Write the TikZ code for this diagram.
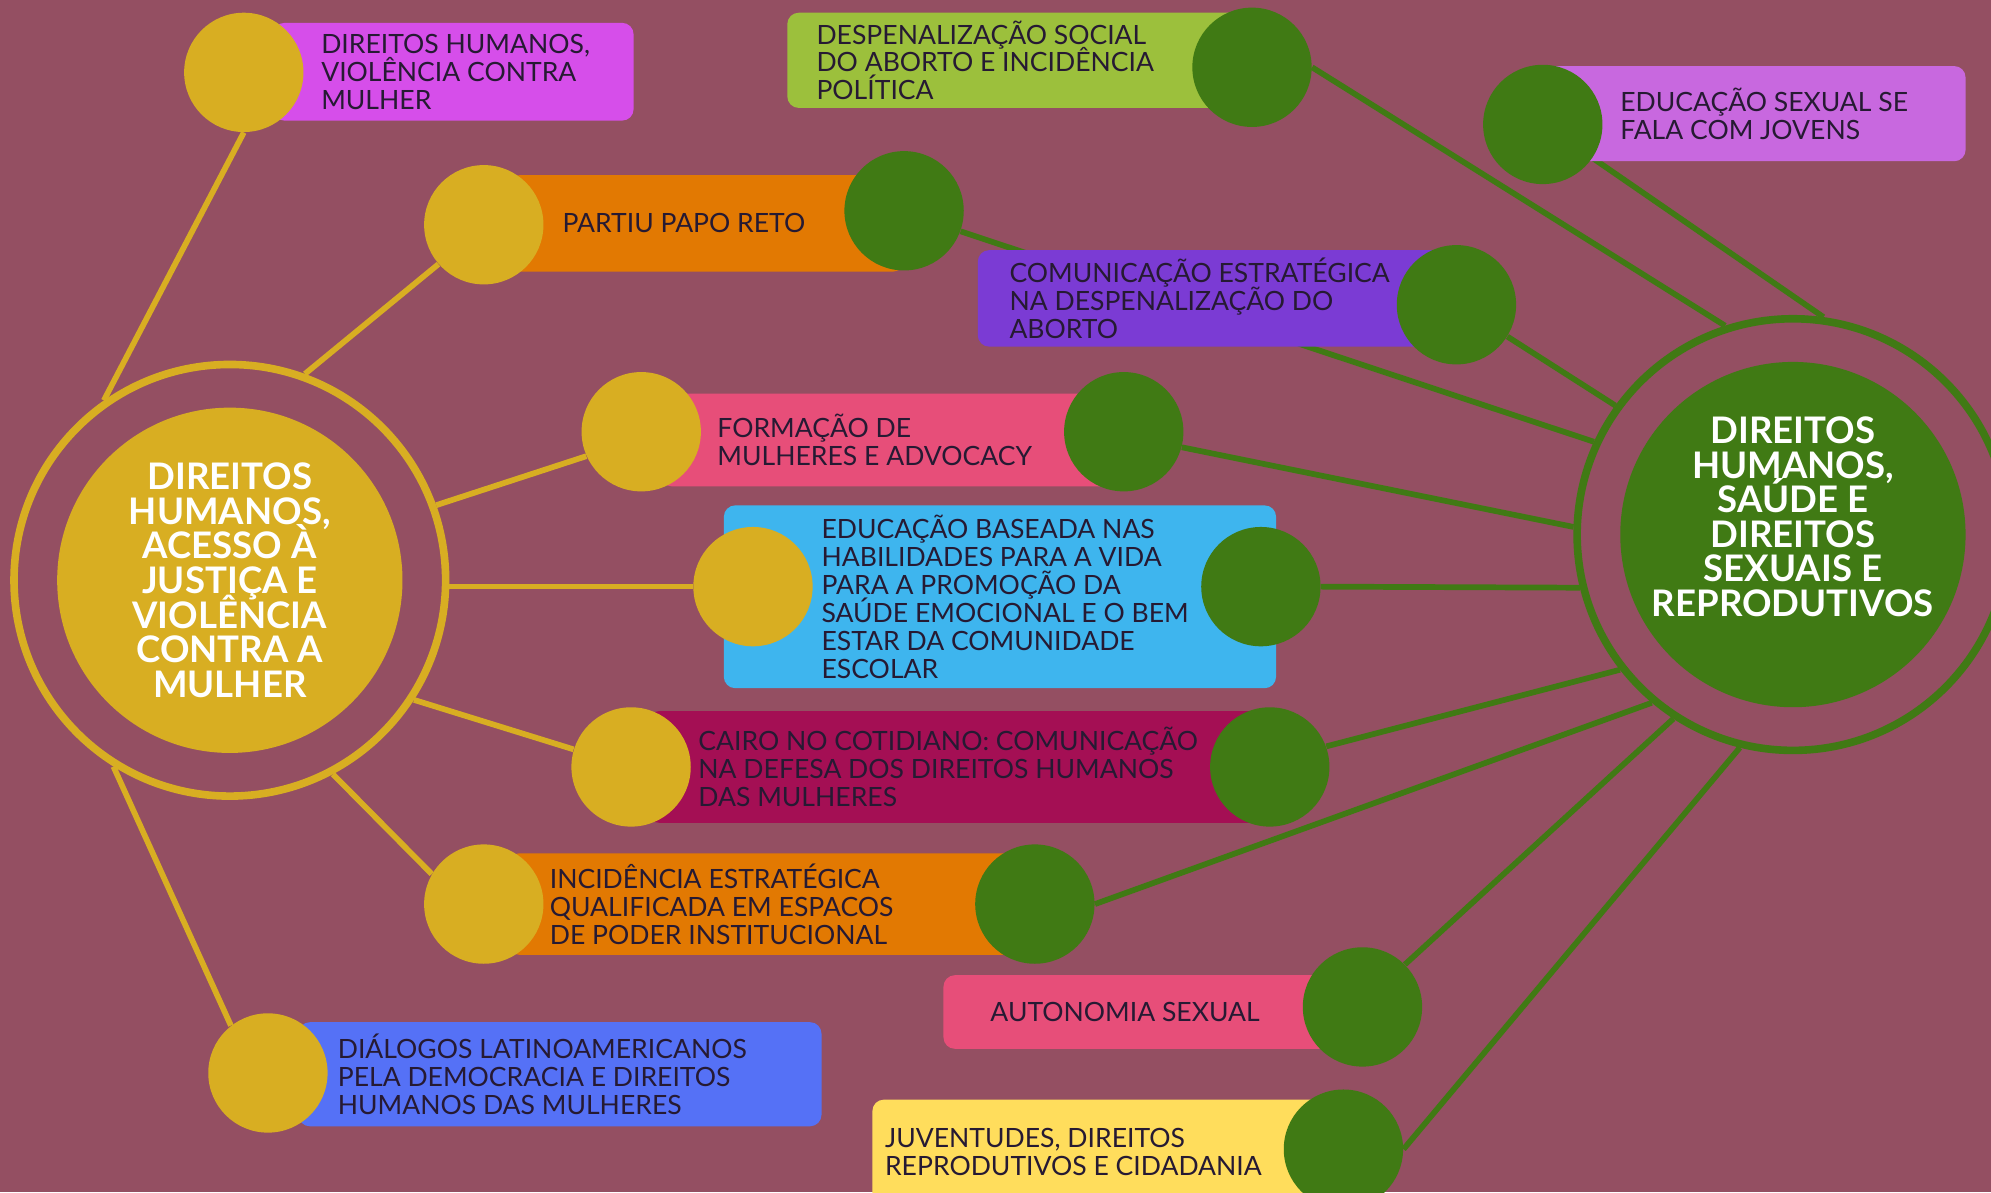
\documentclass[tikz,border=0pt]{standalone}
\usepackage{fontspec}
\setmainfont{Lato}
\usepackage{tikz}
\usetikzlibrary{positioning}

\definecolor{plum}{RGB}{148,79,98}
\definecolor{gold}{RGB}{216,174,34}
\definecolor{leaf}{RGB}{64,122,20}
\definecolor{ink}{RGB}{38,26,51}
\definecolor{cOrchid}{RGB}{214,78,234}
\definecolor{cOrange}{RGB}{226,121,2}
\definecolor{cRose}{RGB}{231,78,121}
\definecolor{cSky}{RGB}{62,181,238}
\definecolor{cWine}{RGB}{164,15,84}
\definecolor{cCobalt}{RGB}{85,113,246}
\definecolor{cLime}{RGB}{156,192,60}
\definecolor{cLilac}{RGB}{200,104,223}
\definecolor{cPurple}{RGB}{123,59,212}
\definecolor{cSun}{RGB}{255,221,92}

\pgfdeclarelayer{bg}
\pgfdeclarelayer{links}
\pgfsetlayers{bg,links,main}

\tikzset{
  hub/.style={circle, fill=#1, minimum size=5.44cm, inner sep=0pt},
  hubring/.style={circle, draw=#1, line width=0.12cm, minimum size=6.8cm, inner sep=0pt},
  hubtext/.style={align=center, text=white, font=\bfseries\fontsize{16.4}{15.5}\selectfont, inner sep=0pt},
  dot/.style={circle, fill=#1, minimum size=1.88cm, inner sep=0pt},
  tile/.style={rectangle, rounded corners=0.18cm, fill=#1, inner sep=0pt},
  tiletext/.style={align=left, text=ink, font=\fontsize{11.9}{12.5}\selectfont, inner sep=0pt},
  link/.style={draw=#1, line width=0.09cm}
}

\begin{document}
\lineskiplimit=-20pt
\begin{tikzpicture}[x=0.02cm,y=-0.02cm]
                \clip (0,0) rectangle (1568,939);
                \begin{pgfonlayer}{bg}
                    \fill[plum] (0,0) rectangle (1568,939);
                \end{pgfonlayer}
                % hubs
                \node[hubring=gold] (ringL) at (181,457) {};
                \node[hub=gold] (hubL) at (181,457) {};
                \node[hubtext] (hubLtext) at (hubL) {DIREITOS\\HUMANOS,\\ACESSO À\\JUSTIÇA E\\VIOLÊNCIA\\CONTRA A\\MULHER};
                \node[hubring=leaf] (ringR) at (1412,421) {};
                \node[hub=leaf] (hubR) at (1412,421) {};
                \node[hubtext] (hubRtext) at ([yshift=0.28cm]hubR) {DIREITOS\\HUMANOS,\\SAÚDE E\\DIREITOS\\SEXUAIS E\\REPRODUTIVOS};
                % tiles
                \node[tile=cOrchid, minimum width=5.68cm, minimum height=1.54cm] (dhv) at (357,56.5) {};
                \node[tile=cOrange, minimum width=6.24cm, minimum height=1.52cm] (partiu) at (556,176) {};
                \node[tile=cRose, minimum width=7.3cm, minimum height=1.46cm] (formacao) at (702.5,346.5) {};
                \node[tile=cSky, minimum width=8.7cm, minimum height=2.88cm] (educ) at (787.5,470) {};
                \node[tile=cWine, minimum width=9.8cm, minimum height=1.76cm] (cairo) at (755,604) {};
                \node[tile=cOrange, minimum width=8.3cm, minimum height=1.6cm] (incid) at (607.5,712) {};
                \node[tile=cCobalt, minimum width=8.24cm, minimum height=1.64cm] (dialogos) at (441,846) {};
                \node[tile=cLime, minimum width=7.32cm, minimum height=1.5cm] (despen) at (803,47.5) {};
                \node[tile=cLilac, minimum width=6.66cm, minimum height=1.5cm] (edusex) at (1381.5,89.5) {};
                \node[tile=cPurple, minimum width=7.54cm, minimum height=1.52cm] (comun) at (958.5,235) {};
                \node[tile=cRose, minimum width=6.6cm, minimum height=1.16cm] (autonomia) at (908,797) {};
                \node[tile=cSun, minimum width=7.42cm, minimum height=1.64cm] (juvent) at (872.5,907) {};
                % yellow dots
                \node[dot=gold] (y1) at (192,57) {};
                \node[dot=gold] (y2) at (381,177) {};
                \node[dot=gold] (y3) at (505,340) {};
                \node[dot=gold] (y4) at (593,462) {};
                \node[dot=gold] (y5) at (497,604) {};
                \node[dot=gold] (y6) at (381,712) {};
                \node[dot=gold] (y7) at (211,845) {};
                % green dots
                \node[dot=leaf] (g1) at (986,53) {};
                \node[dot=leaf] (g2) at (1215,98) {};
                \node[dot=leaf] (g3) at (1147,240) {};
                \node[dot=leaf] (g4) at (712,166) {};
                \node[dot=leaf] (g5) at (885,340) {};
                \node[dot=leaf] (g6) at (993,462) {};
                \node[dot=leaf] (g7) at (1000,604) {};
                \node[dot=leaf] (g8) at (815,712) {};
                \node[dot=leaf] (g9) at (1073,793) {};
                \node[dot=leaf] (g10) at (1058,905) {};
                % tile texts
                \node[tiletext, right=0.76cm of dhv.west] (dhvtext) {DIREITOS HUMANOS,\\VIOLÊNCIA CONTRA\\MULHER};
                \node[tiletext, right=0.86cm of partiu.west] (partiutext) {PARTIU PAPO RETO};
                \node[tiletext, right=0.9cm of formacao.west] (formacaotext) {FORMAÇÃO DE\\MULHERES E ADVOCACY};
                \node[tiletext, right=1.54cm of educ.west] (eductext) {EDUCAÇÃO BASEADA NAS\\HABILIDADES PARA A VIDA\\PARA A PROMOÇÃO DA\\SAÚDE EMOCIONAL E O BEM\\ESTAR DA COMUNIDADE\\ESCOLAR};
                \node[tiletext, right=0.8cm of cairo.west] (cairotext) {CAIRO NO COTIDIANO: COMUNICAÇÃO\\NA DEFESA DOS DIREITOS HUMANOS\\DAS MULHERES};
                \node[tiletext, right=0.66cm of incid.west] (incidtext) {INCIDÊNCIA ESTRATÉGICA\\QUALIFICADA EM ESPACOS\\DE PODER INSTITUCIONAL};
                \node[tiletext, right=0.62cm of dialogos.west] (dialogostext) {DIÁLOGOS LATINOAMERICANOS\\PELA DEMOCRACIA E DIREITOS\\HUMANOS DAS MULHERES};
                \node[tiletext, right=0.46cm of despen.west] (despentext) {DESPENALIZAÇÃO SOCIAL\\DO ABORTO E INCIDÊNCIA\\POLÍTICA};
                \node[tiletext, right=1.22cm of edusex.west] (edusextext) {EDUCAÇÃO SEXUAL SE\\FALA COM JOVENS};
                \node[tiletext, right=0.5cm of comun.west] (comuntext) {COMUNICAÇÃO ESTRATÉGICA\\NA DESPENALIZAÇÃO DO\\ABORTO};
                \node[tiletext, right=0.74cm of autonomia.west] (autonomiatext) {AUTONOMIA SEXUAL};
                \node[tiletext, right=0.2cm of juvent.west] (juventtext) {JUVENTUDES, DIREITOS\\REPRODUTIVOS E CIDADANIA};
                % links
                \begin{pgfonlayer}{links}
                    \draw[link=gold] (ringL.125) -- (y1.south);
                    \draw[link=gold] (ringL.70) -- (y2.221);
                    \draw[link=gold] (ringL.20) -- (y3.204);
                    \draw[link=gold] (y4.west) -- (y4.west -| ringL.east);
                    \draw[link=gold] (ringL.-33) -- (y5.163);
                    \draw[link=gold] (ringL.-62) -- (y6.150);
                    \draw[link=gold] (ringL.238) -- (y7.128);
                    \draw[link=leaf] (g1.east) -- (ringR.108);
                    \draw[link=leaf] (g2.-34) -- (ringR.82);
                    \draw[link=leaf] (g3.-32) -- (ringR.144);
                    \draw[link=leaf] (g4.-20) -- (ringR.155);
                    \draw[link=leaf] (g5.-15) -- (ringR.178);
                    \draw[link=leaf] (g6.east) -- (ringR.194);
                    \draw[link=leaf] (g7.20) -- (ringR.218);
                    \draw[link=leaf] (g8.east) -- (ringR.230);
                    \draw[link=leaf] (g9.45) -- (ringR.237);
                    \draw[link=leaf] (g10.east) -- (ringR.256);
                \end{pgfonlayer}
            \end{tikzpicture}
\end{document}
